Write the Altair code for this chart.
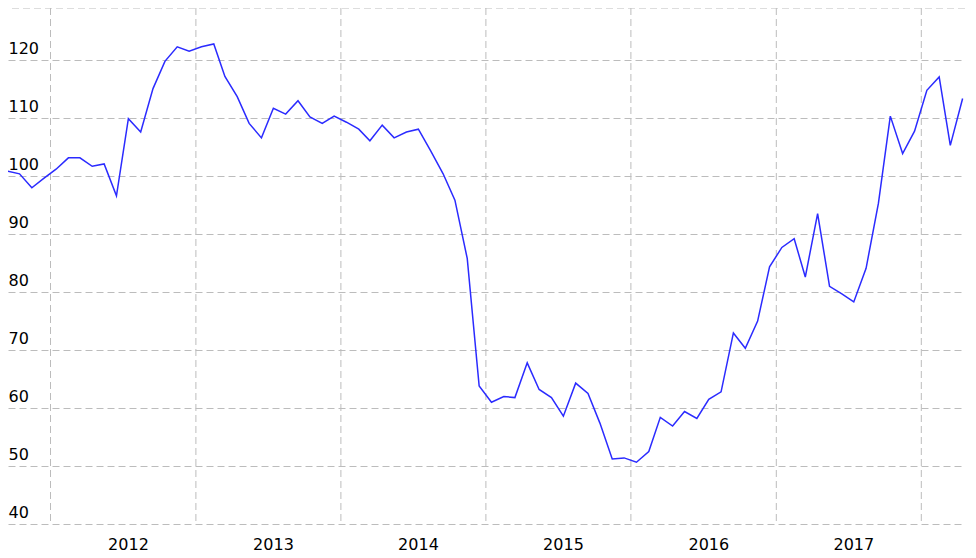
import altair as alt
import pandas as pd

# Monthly series, Sep 2011 .. Apr 2018 (points at mid-month)
start_year, start_month = 2011, 9
values = [
    100.85, 100.4, 98.0, 99.6,                                                       # 2011 Sep-Dec
    101.2, 103.15, 103.15, 101.7, 102.1, 96.6, 109.9, 107.6, 115.1, 119.8, 122.3, 121.55,  # 2012
    122.3, 122.8, 117.2, 113.7, 109.1, 106.6, 111.7, 110.7, 113.0, 110.2, 109.1, 110.35,   # 2013
    109.3, 108.1, 106.1, 108.8, 106.6, 107.6, 108.1, 104.35, 100.45, 95.85, 85.8, 63.8,    # 2014
    61.0, 62.0, 61.8, 67.8, 63.2, 61.8, 58.6, 64.3, 62.5, 57.4, 51.2, 51.4,               # 2015
    50.65, 52.5, 58.4, 56.9, 59.4, 58.2, 61.5, 62.8, 72.95, 70.3, 75.0, 84.35,            # 2016
    87.7, 89.2, 82.6, 93.55, 81.0, 79.7, 78.3, 84.1, 95.3, 110.35, 103.9, 107.75,          # 2017
    114.8, 117.1, 105.3, 113.4,                                                       # 2018 Jan-Apr
]

dates = []
y, m = start_year, start_month
for _ in values:
    dates.append(f"{y:04d}-{m:02d}-15T00:00:00")
    m += 1
    if m > 12:
        m = 1
        y += 1

year_starts = [f"{yr}-01-01T00:00:00" for yr in range(2012, 2019)]
label_years = [2012, 2013, 2014, 2015, 2016, 2017]
y_ticks = [40, 50, 60, 70, 80, 90, 100, 110, 120]

df = pd.DataFrame({"date": dates, "value": values})
grid_df = pd.DataFrame({"date": year_starts})

GRID = "#bcbcbc"
DASH = [7, 4]
FONT = "DejaVu Sans"

xscale = alt.Scale(domain=[alt.DateTime(year=2011, month=9, date=16),
                           alt.DateTime(year=2018, month=4, date=21)])
yscale = alt.Scale(domain=[40, 129], nice=False, zero=False)

line = alt.Chart(df).mark_line(color="#2b2bff", strokeWidth=1.5).encode(
    x=alt.X(
        "date:T",
        scale=xscale,
        axis=alt.Axis(
            values=[alt.DateTime(year=yr, month=7, date=14) for yr in label_years],
            format="%Y",
            title=None,
            grid=False,
            ticks=False,
            tickSize=0,
            domain=False,
            labelPadding=25,
            labelBaseline="alphabetic",
            labelFontSize=16,
            labelFont=FONT,
            labelColor="#000000",
            labelFlush=False,
        ),
    ),
    y=alt.Y(
        "value:Q",
        scale=yscale,
        axis=alt.Axis(
            values=y_ticks,
            title=None,
            grid=True,
            gridColor=GRID,
            gridDash=DASH,
            gridWidth=1,
            ticks=False,
            tickSize=0,
            domain=False,
            labelAlign="left",
            labelPadding=0,
            labelBaseline="alphabetic",
            labelOffset=-6.5,
            labelFontSize=16,
            labelFont=FONT,
            labelColor="#000000",
            labelOverlap=False,
        ),
    ),
)

vgrid = alt.Chart(grid_df).mark_rule(color=GRID, strokeWidth=1, strokeDash=DASH).encode(
    x=alt.X("date:T", scale=xscale)
)

topline = alt.Chart(pd.DataFrame({"v": [129]})).mark_rule(
    color=GRID, strokeWidth=1, strokeDash=DASH
).encode(y=alt.Y("v:Q", scale=yscale))

chart = alt.layer(vgrid, topline, line).properties(
    width=957,
    height=516,
    padding={"left": 0, "top": 0, "right": 0, "bottom": 36},
    autosize=alt.AutoSizeParams(type="none"),
    background="white",
).configure_view(stroke=None)

chart.save("out.html", embed_options={"renderer": "svg", "actions": False})
